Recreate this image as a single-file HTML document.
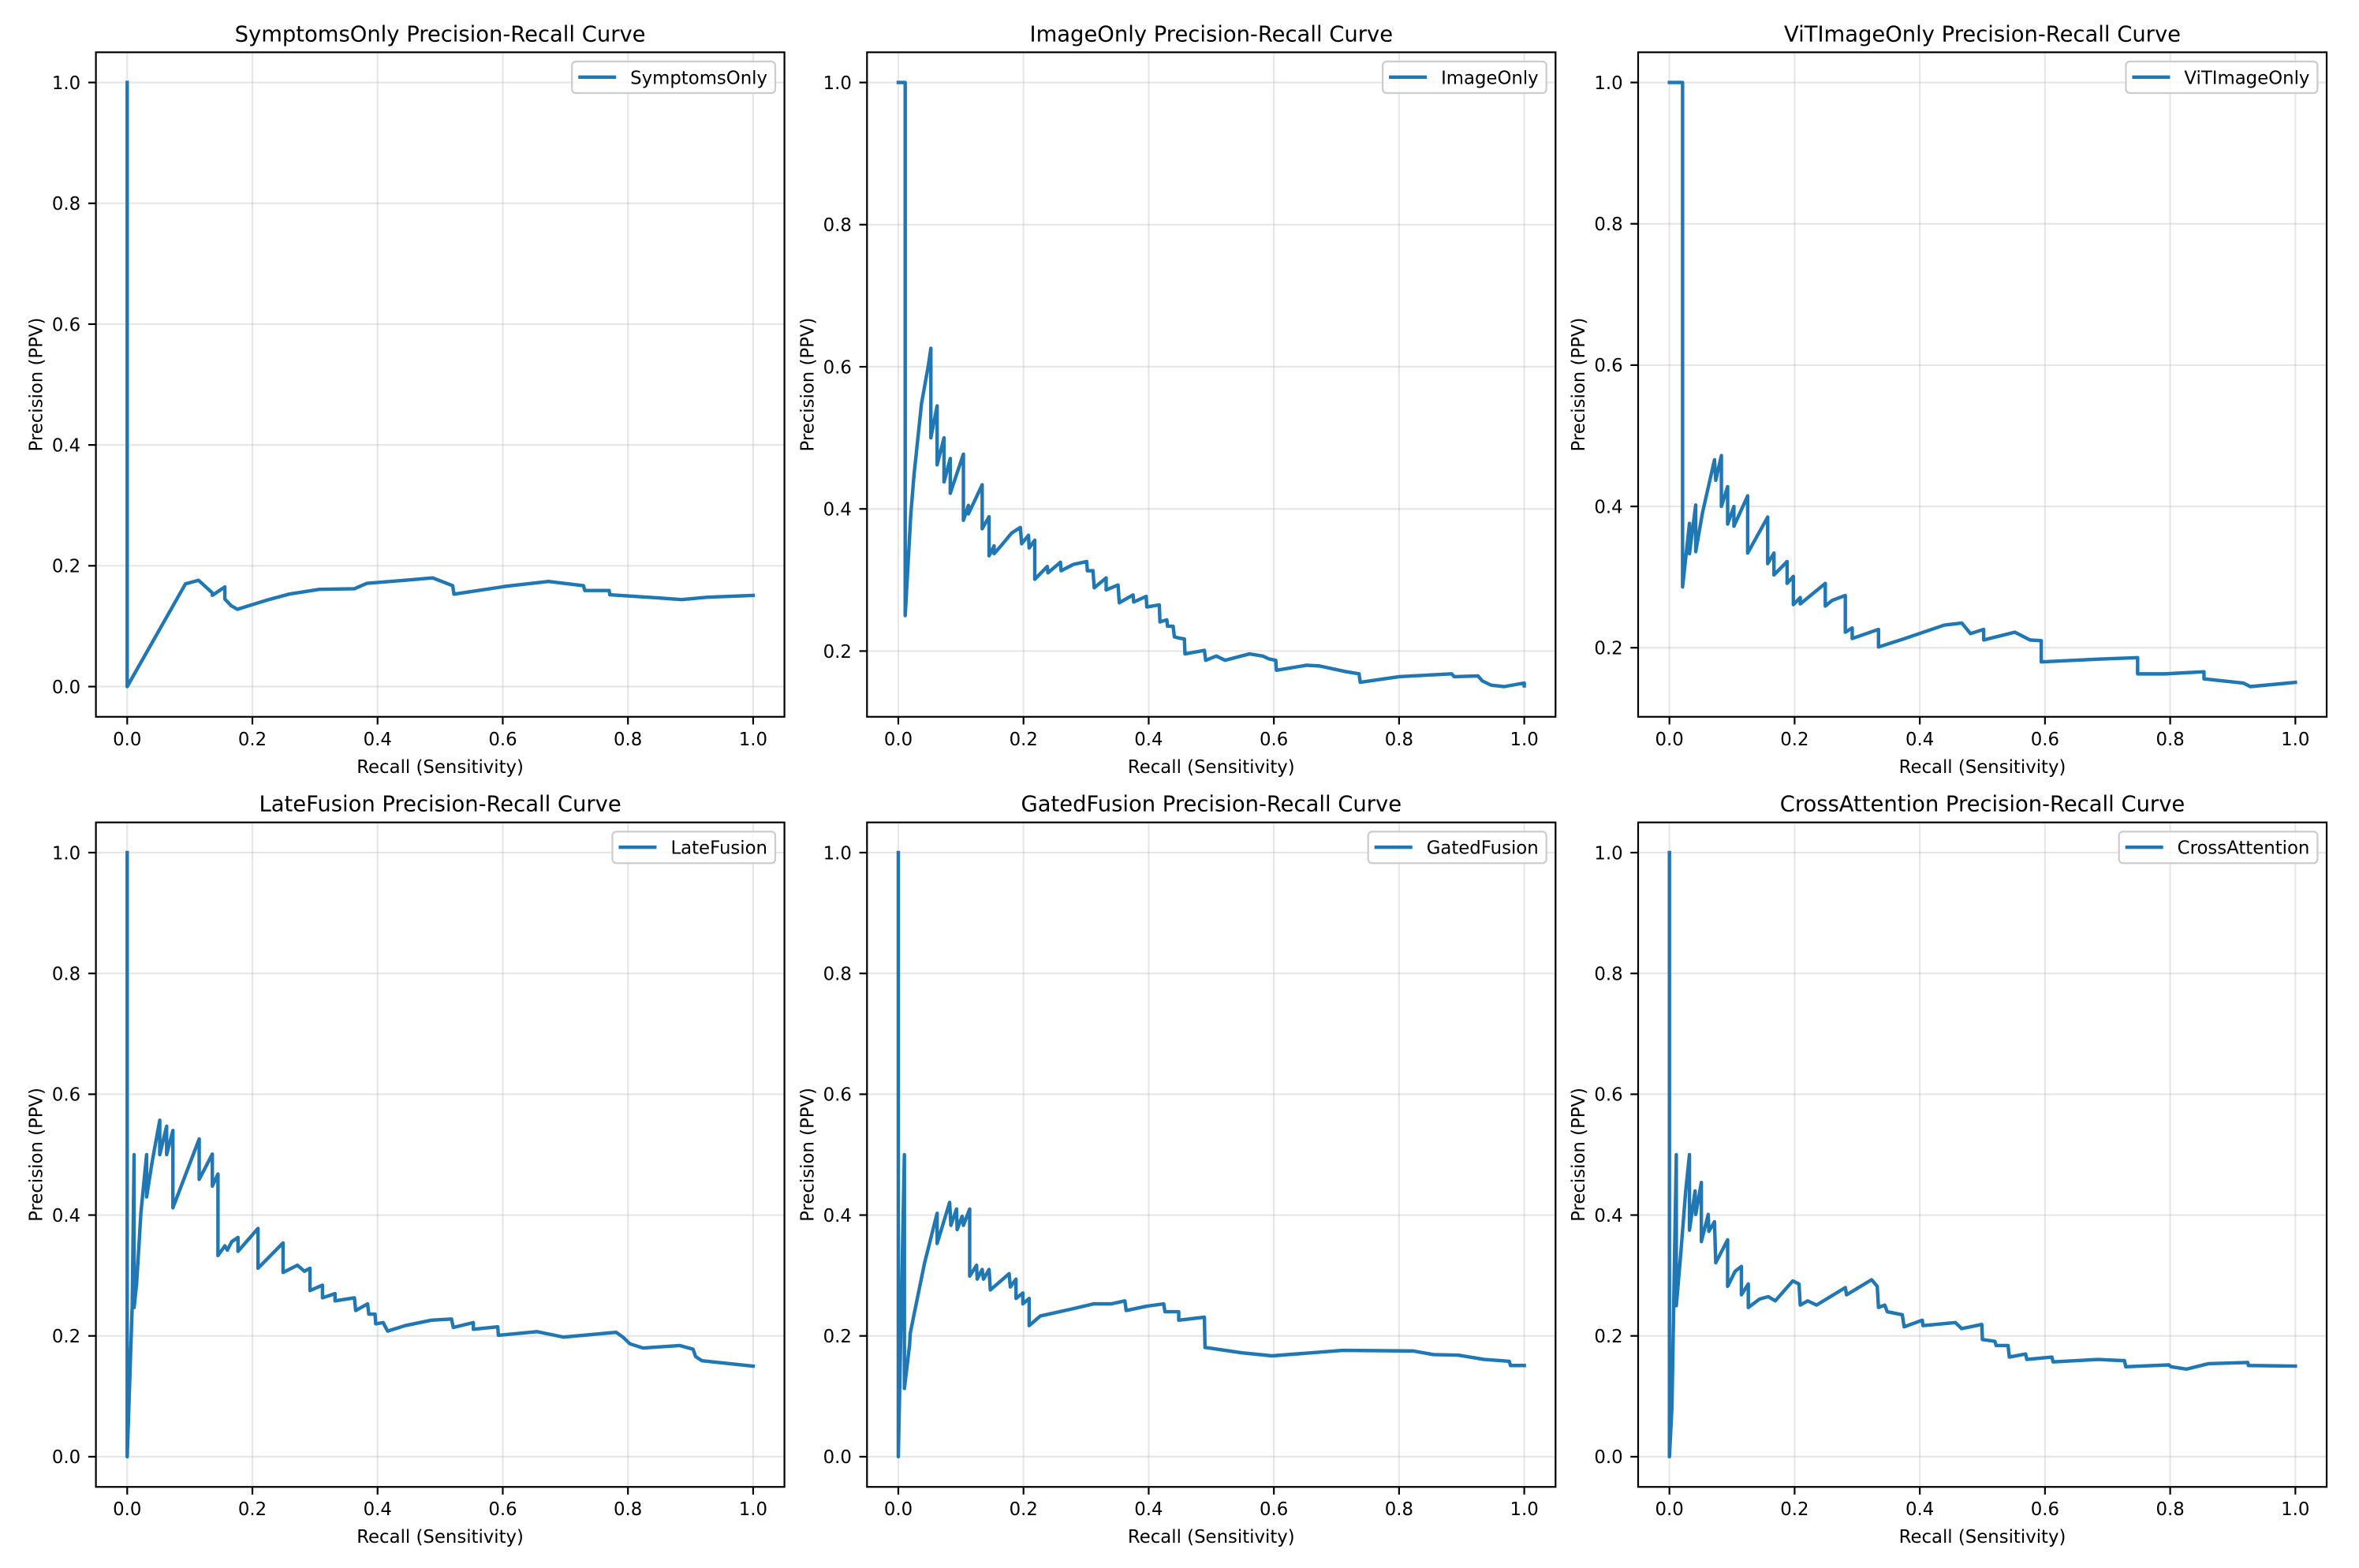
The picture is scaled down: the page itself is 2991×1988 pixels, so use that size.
<!DOCTYPE html>
<html><head><meta charset="utf-8">
<style>
html,body{margin:0;padding:0;background:#fff;}
svg{display:block;font-family:"DejaVu Sans","Liberation Sans",sans-serif;}
</style></head>
<body>
<svg id="fig" width="2991" height="1988" viewBox="0 0 2991 1988" xmlns="http://www.w3.org/2000/svg">
<rect width="2991" height="1988" fill="#fff"/>
</svg>
<script>
const modelNames = ["SymptomsOnly","ImageOnly","ViTImageOnly","LateFusion","GatedFusion","CrossAttention"];
const xTicks = [0,0.2,0.4,0.6,0.8,1.0];
const xTickLabels = ["0.0","0.2","0.4","0.6","0.8","1.0"];
const yTicksFull = [0,0.2,0.4,0.6,0.8,1.0];
const yTicksFullLabels = ["0.0","0.2","0.4","0.6","0.8","1.0"];
const yTicksShort = [0.2,0.4,0.6,0.8,1.0];
const yTicksShortLabels = ["0.2","0.4","0.6","0.8","1.0"];

const symptomsOnlyPts = [[0,1],[0,0],[0.093,0.170],[0.114,0.176],[0.136,0.155],[0.136,0.151],[0.156,0.165],[0.156,0.145],[0.166,0.134],[0.176,0.128],[0.226,0.144],[0.258,0.153],[0.307,0.161],[0.363,0.162],[0.383,0.171],[0.444,0.176],[0.488,0.180],[0.520,0.167],[0.522,0.153],[0.605,0.166],[0.673,0.174],[0.729,0.167],[0.731,0.159],[0.770,0.159],[0.771,0.152],[0.846,0.147],[0.886,0.144],[0.927,0.148],[1.0,0.151]];

const imageOnlyPts = [[0,1.0],[0.011,1.0],[0.011,0.250],[0.020,0.393],[0.025,0.447],[0.032,0.506],[0.037,0.548],[0.048,0.602],[0.052,0.626],[0.052,0.500],[0.062,0.545],[0.062,0.462],[0.073,0.500],[0.073,0.438],[0.083,0.471],[0.083,0.422],[0.104,0.477],[0.104,0.384],[0.112,0.405],[0.112,0.393],[0.134,0.434],[0.134,0.372],[0.145,0.389],[0.145,0.334],[0.153,0.348],[0.153,0.337],[0.164,0.348],[0.181,0.366],[0.195,0.374],[0.197,0.351],[0.208,0.363],[0.209,0.345],[0.218,0.356],[0.218,0.301],[0.238,0.319],[0.239,0.310],[0.259,0.325],[0.260,0.313],[0.280,0.322],[0.301,0.326],[0.302,0.313],[0.311,0.313],[0.313,0.289],[0.332,0.303],[0.332,0.286],[0.351,0.293],[0.353,0.268],[0.375,0.279],[0.376,0.269],[0.396,0.277],[0.397,0.262],[0.417,0.265],[0.418,0.241],[0.429,0.244],[0.430,0.235],[0.439,0.235],[0.441,0.220],[0.450,0.218],[0.457,0.217],[0.458,0.196],[0.489,0.201],[0.491,0.187],[0.508,0.193],[0.522,0.187],[0.561,0.196],[0.582,0.193],[0.592,0.189],[0.603,0.187],[0.604,0.173],[0.652,0.180],[0.673,0.179],[0.715,0.171],[0.736,0.168],[0.738,0.156],[0.800,0.164],[0.884,0.168],[0.888,0.164],[0.926,0.165],[0.933,0.158],[0.947,0.152],[0.968,0.150],[1.0,0.155],[1.0,0.151]];

const vitImageOnlyPts = [[0,1],[0.021,1],[0.021,0.286],[0.032,0.376],[0.032,0.333],[0.042,0.402],[0.042,0.336],[0.053,0.392],[0.060,0.419],[0.072,0.466],[0.074,0.437],[0.083,0.472],[0.083,0.400],[0.093,0.428],[0.093,0.375],[0.103,0.400],[0.103,0.372],[0.125,0.415],[0.125,0.334],[0.157,0.385],[0.157,0.319],[0.167,0.334],[0.167,0.303],[0.188,0.322],[0.188,0.291],[0.198,0.301],[0.198,0.261],[0.209,0.271],[0.209,0.262],[0.249,0.291],[0.249,0.259],[0.260,0.267],[0.281,0.274],[0.281,0.222],[0.292,0.228],[0.292,0.213],[0.334,0.226],[0.334,0.201],[0.376,0.213],[0.439,0.232],[0.467,0.235],[0.481,0.220],[0.502,0.226],[0.502,0.211],[0.552,0.222],[0.576,0.211],[0.594,0.210],[0.594,0.180],[0.689,0.184],[0.748,0.186],[0.748,0.163],[0.791,0.163],[0.854,0.166],[0.854,0.156],[0.917,0.150],[0.928,0.145],[1.0,0.151]];

const lateFusionPts = [[0,1.0],[0,0],[0.008,0.250],[0.011,0.500],[0.011,0.247],[0.015,0.286],[0.022,0.405],[0.031,0.500],[0.031,0.430],[0.040,0.489],[0.052,0.557],[0.052,0.500],[0.063,0.547],[0.063,0.500],[0.073,0.540],[0.073,0.412],[0.115,0.526],[0.115,0.459],[0.136,0.501],[0.136,0.448],[0.145,0.468],[0.145,0.333],[0.156,0.349],[0.160,0.342],[0.167,0.356],[0.177,0.363],[0.177,0.340],[0.209,0.378],[0.209,0.312],[0.249,0.354],[0.249,0.305],[0.272,0.317],[0.283,0.307],[0.292,0.312],[0.292,0.275],[0.312,0.284],[0.312,0.263],[0.332,0.270],[0.332,0.258],[0.363,0.263],[0.365,0.242],[0.384,0.253],[0.386,0.236],[0.396,0.236],[0.397,0.220],[0.409,0.222],[0.416,0.208],[0.444,0.217],[0.486,0.226],[0.518,0.228],[0.521,0.214],[0.553,0.222],[0.553,0.211],[0.592,0.215],[0.593,0.201],[0.655,0.207],[0.697,0.198],[0.781,0.206],[0.792,0.198],[0.803,0.187],[0.824,0.180],[0.883,0.184],[0.904,0.178],[0.908,0.166],[0.918,0.159],[1.0,0.150]];

const gatedFusionPts = [[0,1.0],[0,0],[0.0097,0.500],[0.0097,0.113],[0.018,0.185],[0.019,0.204],[0.026,0.240],[0.042,0.321],[0.062,0.403],[0.062,0.353],[0.082,0.421],[0.084,0.383],[0.093,0.410],[0.094,0.376],[0.102,0.398],[0.104,0.383],[0.114,0.410],[0.114,0.299],[0.125,0.317],[0.126,0.294],[0.134,0.310],[0.136,0.294],[0.145,0.310],[0.147,0.276],[0.177,0.303],[0.179,0.281],[0.188,0.294],[0.188,0.262],[0.199,0.271],[0.199,0.253],[0.209,0.262],[0.209,0.217],[0.227,0.233],[0.275,0.244],[0.312,0.253],[0.340,0.253],[0.362,0.258],[0.364,0.242],[0.396,0.249],[0.424,0.253],[0.426,0.240],[0.448,0.240],[0.448,0.226],[0.489,0.231],[0.490,0.181],[0.549,0.172],[0.597,0.167],[0.710,0.176],[0.823,0.175],[0.855,0.169],[0.895,0.168],[0.936,0.161],[0.976,0.158],[0.978,0.151],[1.0,0.151]];

const crossAttentionPts = [[0,1.0],[0,0],[0.004,0.082],[0.011,0.500],[0.011,0.250],[0.018,0.335],[0.026,0.440],[0.032,0.500],[0.032,0.375],[0.041,0.440],[0.042,0.401],[0.051,0.454],[0.051,0.356],[0.062,0.401],[0.063,0.373],[0.072,0.389],[0.074,0.321],[0.093,0.359],[0.093,0.282],[0.105,0.307],[0.115,0.315],[0.115,0.268],[0.126,0.286],[0.126,0.247],[0.144,0.261],[0.158,0.265],[0.169,0.258],[0.197,0.291],[0.207,0.286],[0.209,0.251],[0.221,0.258],[0.235,0.251],[0.281,0.280],[0.283,0.268],[0.323,0.293],[0.332,0.282],[0.334,0.247],[0.344,0.251],[0.348,0.240],[0.372,0.235],[0.375,0.215],[0.404,0.226],[0.405,0.217],[0.457,0.222],[0.467,0.212],[0.499,0.219],[0.500,0.194],[0.520,0.191],[0.522,0.184],[0.541,0.184],[0.543,0.165],[0.569,0.170],[0.571,0.161],[0.611,0.165],[0.613,0.157],[0.685,0.161],[0.727,0.159],[0.729,0.149],[0.798,0.152],[0.801,0.149],[0.826,0.145],[0.861,0.154],[0.924,0.156],[0.925,0.151],[1.0,0.150]];

const seriesList = [symptomsOnlyPts, imageOnlyPts, vitImageOnlyPts, lateFusionPts, gatedFusionPts, crossAttentionPts];

const NS = "http://www.w3.org/2000/svg";
const svg = document.getElementById("fig");
const colLeft = [121.6, 1099.3, 2077];
const rowTop = [66.3, 1042.7];
const AW = 873, AH = 842.5;
const TICKFS = 22.8, TITLEFS = 27.4;

function mk(tag, attrs, parent) {
  const e = document.createElementNS(NS, tag);
  for (const k in attrs) e.setAttribute(k, attrs[k]);
  (parent || svg).appendChild(e);
  return e;
}

seriesList.forEach((pts, i) => {
  const name = modelNames[i];
  const L = colLeft[i % 3], T = rowTop[Math.floor(i / 3)];
  const g = mk("g", {});
  
  
  const xs = pts.map(p => p[0]), ys = pts.map(p => p[1]);
  const xmin = Math.min(...xs), xmax = Math.max(...xs);
  const ymin = Math.min(...ys), ymax = Math.max(...ys);
  const xm = (xmax - xmin) * 0.05, ym = (ymax - ymin) * 0.05;
  const x0 = xmin - xm, x1 = xmax + xm, y0 = ymin - ym, y1 = ymax + ym;
  const sx = v => L + (v - x0) / (x1 - x0) * AW;
  const sy = v => T + AH - (v - y0) / (y1 - y0) * AH;
  const yt = ymin < 0.1 ? yTicksFull : yTicksShort;
  const ytl = ymin < 0.1 ? yTicksFullLabels : yTicksShortLabels;

  xTicks.forEach(t => {
    const l = mk("line", {x1: sx(t), x2: sx(t), y1: T, y2: T + AH, stroke: "#b0b0b0", "stroke-opacity": 0.3, "stroke-width": 2.2}, g);
    
    
  });
  yt.forEach(t => {
    const l = mk("line", {x1: L, x2: L + AW, y1: sy(t), y2: sy(t), stroke: "#b0b0b0", "stroke-opacity": 0.3, "stroke-width": 2.2}, g);
    
    
  });

  const d = pts.map((p, k) => (k ? "L" : "M") + sx(p[0]).toFixed(2) + " " + sy(p[1]).toFixed(2)).join(" ");
  const path = mk("path", {d: d, fill: "none", stroke: "#1f77b4", "stroke-width": 4.4, "stroke-linejoin": "round", "stroke-linecap": "square"}, g);
  
  

  const sp = mk("rect", {x: L, y: T, width: AW, height: AH, fill: "none", stroke: "#000", "stroke-width": 2.2}, g);
  
  

  xTicks.forEach((t, k) => {
    const tk = mk("line", {x1: sx(t), x2: sx(t), y1: T + AH, y2: T + AH + 9.7, stroke: "#000", "stroke-width": 2.2}, g);
    
    
    const tx = mk("text", {x: sx(t), y: T + AH + 36, "text-anchor": "middle", "font-size": TICKFS, fill: "#000"}, g);
    tx.textContent = xTickLabels[k];
    
    
  });
  yt.forEach((t, k) => {
    const tk = mk("line", {x1: L - 9.7, x2: L, y1: sy(t), y2: sy(t), stroke: "#000", "stroke-width": 2.2}, g);
    
    
    const tx = mk("text", {x: L - 19.4, y: sy(t) + 8.3, "text-anchor": "end", "font-size": TICKFS, fill: "#000"}, g);
    tx.textContent = ytl[k];
    
    
  });

  const xl = mk("text", {x: L + AW / 2, y: T + AH + 71, "text-anchor": "middle", "font-size": TICKFS, fill: "#000"}, g);
  xl.textContent = "Recall (Sensitivity)";
  
  
  const yl = mk("text", {x: 0, y: 0, "text-anchor": "middle", "font-size": TICKFS, fill: "#000", transform: "translate(" + (L - 68) + "," + (T + AH / 2) + ") rotate(-90)"}, g);
  yl.textContent = "Precision (PPV)";
  
  
  const ti = mk("text", {x: L + AW / 2, y: T - 14, "text-anchor": "middle", "font-size": TITLEFS, fill: "#000"}, g);
  ti.textContent = name + " Precision-Recall Curve";
  
  

  const lg = mk("g", {}, g);
  
  
  const box = mk("rect", {rx: 5, ry: 5, fill: "#fff", "fill-opacity": 0.8, stroke: "#cccccc", "stroke-width": 2.2}, lg);
  
  
  const lt = mk("text", {y: T + 40, "font-size": TICKFS, fill: "#000"}, lg);
  lt.textContent = name;
  
  
  let tw = 0;
  try { tw = lt.getComputedTextLength(); } catch (e) { tw = name.length * 14; }
  if (!tw) tw = name.length * 14;
  const bw = 8 + 48 + 18 + tw + 10;
  const bx = L + AW - 11.6 - bw;
  box.setAttribute("x", bx); box.setAttribute("y", T + 11.7);
  box.setAttribute("width", bw); box.setAttribute("height", 40);
  lt.setAttribute("x", bx + 8 + 48 + 18);
  const ll = mk("line", {x1: bx + 8, x2: bx + 56, y1: T + 31.5, y2: T + 31.5, stroke: "#1f77b4", "stroke-width": 4.4}, lg);
  
  
});
</script>
</body></html>
